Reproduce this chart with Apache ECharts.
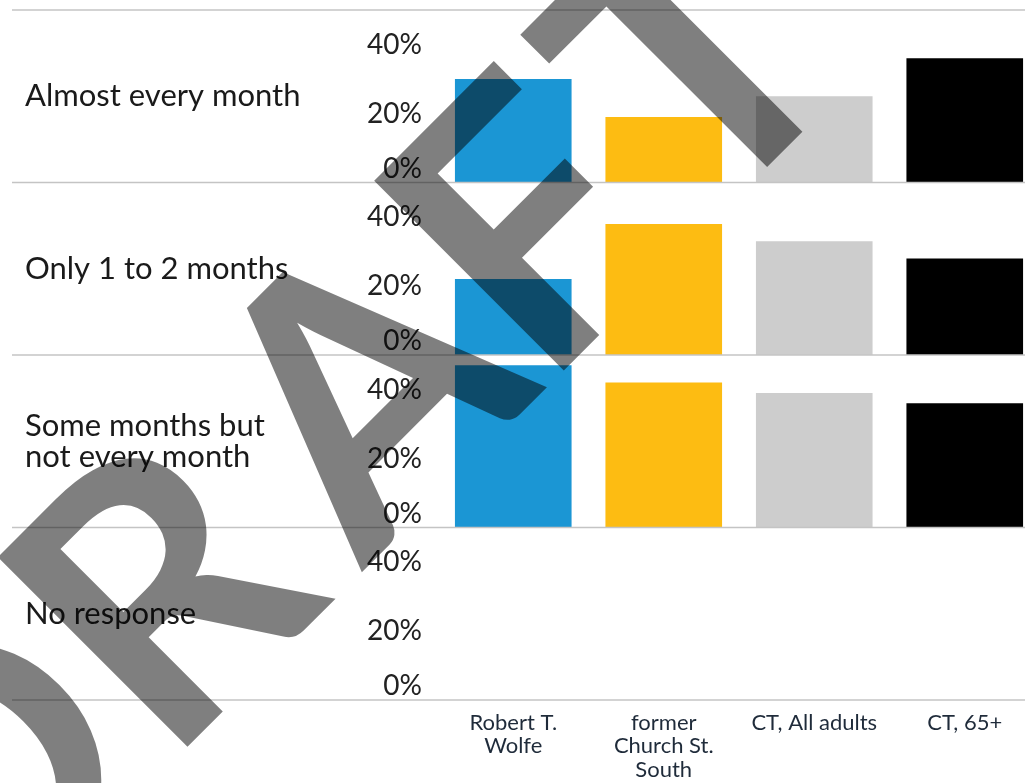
<!DOCTYPE html>
<html>
<head>
<meta charset="utf-8">
<script src="https://cdn.jsdelivr.net/npm/echarts@6/dist/echarts.min.js"></script>
<style>
    html, body { margin: 0; padding: 0; background: #fff; }
    #main { width: 1025px; height: 783px; }
</style>
</head>
<body>
<div id="main"></div>
<script>
// categories along the bottom
var categories = ['Robert T.\nWolfe', 'former\nChurch St.\nSouth', 'CT, All adults', 'CT, 65+'];
// one row (panel) per answer
var rowLabels = ['Almost every month', 'Only 1 to 2 months', 'Some months but\nnot every month', 'No response'];
// percent values
var almostEveryMonth = [30, 19, 25, 36];
var oneToTwoMonths = [22, 38, 33, 28];
var someMonths = [47, 42, 39, 36];
var noResponse = [0, 0, 0, 0];
var rows = [almostEveryMonth, oneToTwoMonths, someMonths, noResponse];
var barColors = ['#1b96d4', '#fdbc12', '#cdcdcd', '#000000'];

// layout
var panelTop = 10;
var panelH = 172.5;
var gridLeft = 438;
var gridWidth = 602;

var chart = echarts.init(document.getElementById('main'));

var grids = [], xAxes = [], yAxes = [], series = [], lines = [];
for (var i = 0; i < rows.length; i++) {
    grids.push({
        left: gridLeft, width: gridWidth,
        top: panelTop + panelH * i, height: panelH,
        containLabel: false,
        outerBoundsMode: 'none'
    });
    xAxes.push({
        gridIndex: i,
        type: 'category',
        data: categories,
        axisLine: { show: false },
        axisTick: { show: false },
        axisLabel: {
            show: i === rows.length - 1,
            interval: 0,
            margin: 11,
            fontSize: 22,
            lineHeight: 23.5,
            fontFamily: 'Lato',
            color: '#1f2b3a'
        }
    });
    yAxes.push({
        gridIndex: i,
        type: 'value',
        min: 0,
        max: 50,
        interval: 20,
        splitLine: { show: false },
        axisLine: { show: false },
        axisTick: { show: false },
        axisLabel: {
            formatter: '{value}%',
            showMaxLabel: false,
            verticalAlignMinLabel: 'bottom',
            margin: 16,
            fontSize: 28,
            fontFamily: 'Lato',
            color: '#222'
        },
        name: rowLabels[i],
        nameLocation: 'middle',
        nameRotate: 0,
        nameGap: gridLeft - 25,
        nameTextStyle: {
            align: 'left',
            verticalAlign: 'middle',
            fontSize: 31,
            lineHeight: 31,
            fontFamily: 'Lato',
            color: '#1a1a1a'
        }
    });
    series.push({
        type: 'bar',
        xAxisIndex: i,
        yAxisIndex: i,
        data: rows[i],
        colorBy: 'data',
        barWidth: '77.5%',
        silent: true
    });
}

// separator lines across the full width
for (var k = 0; k <= rows.length; k++) {
    var y = panelTop + panelH * k;
    lines.push({
        type: 'line',
        z: 5,
        shape: { x1: 12, y1: y, x2: 1025, y2: y },
        style: { stroke: '#c4c4c4', lineWidth: 1.5 }
    });
}

// DRAFT watermark, letter by letter along a 45 degree baseline
var wmText = 'DRAFT';
var wmShift = [-35, -32, 8, 4, 25];
var wmFont = 'bold 371px Lato';
var wmCx = 333, wmCy = 432;
var ctx = document.createElement('canvas').getContext('2d');
ctx.font = wmFont;
var wmTotal = ctx.measureText(wmText).width;
for (var j = 0; j < wmText.length; j++) {
    var start = ctx.measureText(wmText.slice(0, j)).width;
    var w = ctx.measureText(wmText[j]).width;
    var u = start + w / 2 - wmTotal / 2 + wmShift[j];
    lines.push({
        type: 'text',
        x: wmCx + u * Math.SQRT1_2,
        y: wmCy - u * Math.SQRT1_2,
        rotation: Math.PI / 4,
        z: 100,
        silent: true,
        style: {
            text: wmText[j],
            fontSize: 371,
            fontWeight: 'bold',
            fontFamily: 'Lato',
            fill: 'rgba(0,0,0,0.5)',
            align: 'center',
            verticalAlign: 'middle'
        }
    });
}

chart.setOption({
    animation: false,
    backgroundColor: '#fff',
    color: barColors,
    grid: grids,
    xAxis: xAxes,
    yAxis: yAxes,
    series: series,
    graphic: lines
});
</script>
</body>
</html>
